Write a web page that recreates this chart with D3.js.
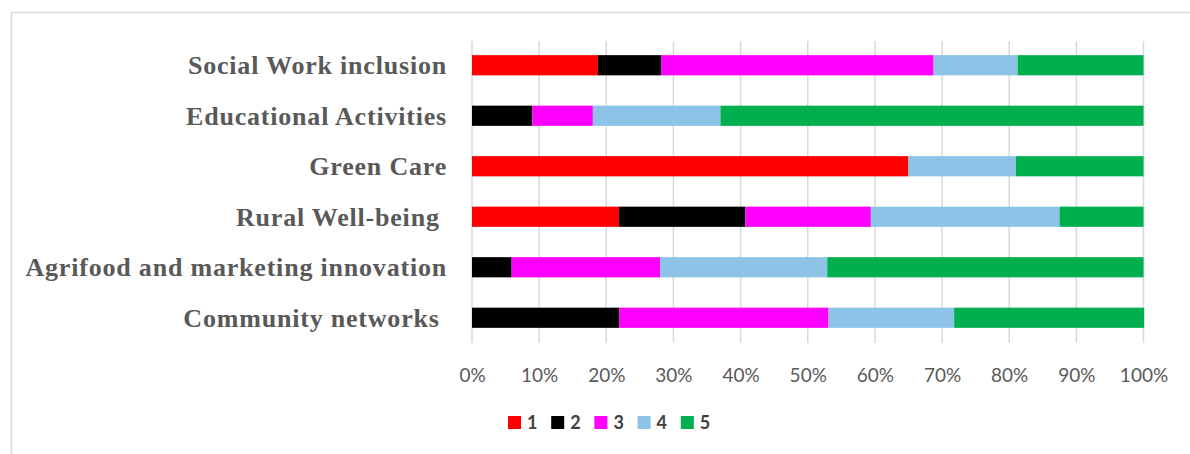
<!DOCTYPE html>
<html>
<head>
<meta charset="utf-8">
<script src="https://d3js.org/d3.v7.min.js"></script>
<style>
  body { margin: 0; background: #fff; }
  svg { display: block; }
</style>
</head>
<body>
<div id="chart"></div>
<script>
// Data: share of answers per level (1..5), percentages
const categories = [
  "Social Work inclusion",
  "Educational Activities",
  "Green Care",
  "Rural Well-being ",
  "Agrifood and marketing innovation",
  "Community networks "
];
const level1 = [18.75, 0, 65, 21.9, 0, 0];
const level2 = [9.4, 9, 0, 18.8, 5.9, 21.9];
const level3 = [40.6, 9, 0, 18.7, 22.1, 31.2];
const level4 = [12.5, 19, 16, 28.1, 24.9, 18.7];
const level5 = [18.75, 63, 19, 12.5, 47.1, 28.3];
const seriesNames = ["1", "2", "3", "4", "5"];
const seriesColors = ["#ff0000", "#000000", "#ff00ff", "#8dc3e7", "#00b04f"];
const tickValues = [0, 10, 20, 30, 40, 50, 60, 70, 80, 90, 100];

const width = 1190;
const height = 454;

const svg = d3.select("#chart")
  .append("svg")
  .attr("width", width)
  .attr("height", height);

// outer frame (only top and left edges visible in the crop)
svg.append("rect")
  .attr("x", 11.5)
  .attr("y", 12.5)
  .attr("width", width + 20)
  .attr("height", height + 20)
  .attr("fill", "#fff")
  .attr("stroke", "#d9d9d9")
  .attr("stroke-width", 1.5);

const x = d3.scaleLinear().domain([0, 100]).range([472, 1143.5]);
const y = d3.scaleBand()
  .domain(categories)
  .range([40, 343])
  .paddingInner(0.6)
  .paddingOuter(0.3);

// gridlines
svg.append("g")
  .selectAll("line")
  .data(tickValues)
  .join("line")
  .attr("x1", d => x(d))
  .attr("x2", d => x(d))
  .attr("y1", 41)
  .attr("y2", 343)
  .attr("stroke", "#d9d9d9")
  .attr("stroke-width", 1.5);

// stack the series
const rows = categories.map((c, i) => ({
  cat: c, "1": level1[i], "2": level2[i], "3": level3[i], "4": level4[i], "5": level5[i]
}));
const stacked = d3.stack().keys(seriesNames)(rows);

svg.append("g")
  .selectAll("g")
  .data(stacked)
  .join("g")
  .attr("fill", (d, i) => seriesColors[i])
  .selectAll("rect")
  .data(d => d)
  .join("rect")
  .attr("x", d => x(d[0]))
  .attr("width", d => Math.max(0, x(d[1]) - x(d[0])))
  .attr("y", d => y(d.data.cat))
  .attr("height", y.bandwidth());

// category labels
svg.append("g")
  .selectAll("text")
  .data(categories)
  .join("text")
  .attr("x", 447)
  .attr("y", d => y(d) + y.bandwidth() / 2)
  .attr("dy", "0.35em")
  .attr("text-anchor", "end")
  .style("white-space", "pre")
  .attr("font-family", "'Liberation Serif', 'Times New Roman', serif")
  .attr("font-weight", "bold")
  .attr("font-size", 26)
  .attr("letter-spacing", 0.8)
  .attr("fill", "#595959")
  .text(d => d);

// x tick labels
const xAxis = d3.axisBottom(x)
  .tickValues(tickValues)
  .tickFormat(d => d + "%")
  .tickSize(0)
  .tickPadding(0);

const gx = svg.append("g")
  .attr("transform", "translate(0,368)")
  .call(xAxis);
gx.select(".domain").remove();
gx.selectAll("text")
  .attr("font-family", "Lato, 'Open Sans', sans-serif")
  .attr("font-size", 19)
  .attr("fill", "#595959");

// legend
const legend = svg.append("g")
  .selectAll("g")
  .data(seriesNames)
  .join("g")
  .attr("transform", (d, i) => `translate(${508 + i * 43.2},416)`);

legend.append("rect")
  .attr("width", 13)
  .attr("height", 13)
  .attr("fill", (d, i) => seriesColors[i]);

legend.append("text")
  .attr("x", 19)
  .attr("y", 6.5)
  .attr("dy", "0.36em")
  .attr("font-family", "Lato, 'Open Sans', sans-serif")
  .attr("font-weight", "bold")
  .attr("font-size", 18)
  .attr("fill", "#404040")
  .text(d => d);
</script>
</body>
</html>
